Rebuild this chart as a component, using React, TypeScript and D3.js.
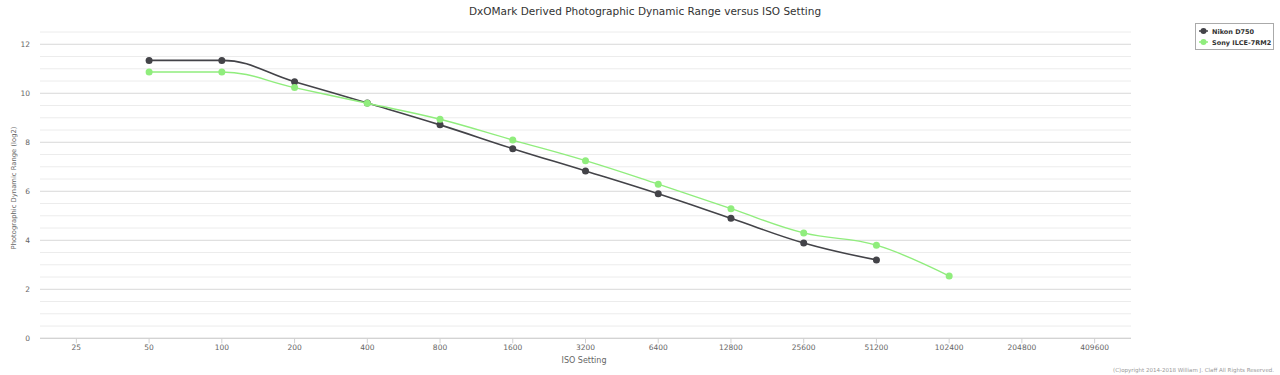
import React from "react";
import * as d3 from "d3";

const title = "DxOMark Derived Photographic Dynamic Range versus ISO Setting";
const isoCategories = ["25", "50", "100", "200", "400", "800", "1600", "3200", "6400", "12800", "25600", "51200", "102400", "204800", "409600"];
const nikonISO = ["50", "100", "200", "400", "800", "1600", "3200", "6400", "12800", "25600", "51200"];
const nikonValues = [11.34, 11.34, 10.47, 9.6, 8.71, 7.74, 6.83, 5.9, 4.9, 3.89, 3.2];
const sonyISO = ["50", "100", "200", "400", "800", "1600", "3200", "6400", "12800", "25600", "51200", "102400"];
const sonyValues = [10.87, 10.87, 10.23, 9.59, 8.94, 8.09, 7.25, 6.29, 5.29, 4.3, 3.8, 2.54];
const yTicks = [0, 2, 4, 6, 8, 10, 12];
const seriesNames = ["Nikon D750", "Sony ILCE-7RM2"];
const seriesColors = ["#434348", "#90ed7d"];

const W = 1280;
const H = 375;
const M = { left: 40, right: 1131, top: 32, bottom: 338.3 };

const x = d3.scaleBand<string>().domain(isoCategories).range([M.left, M.right]).padding(0);
const y = d3.scaleLinear().domain([0, 12.5]).range([M.bottom, M.top]);
const cx = (c: string) => (x(c) as number) + x.bandwidth() / 2;

type P = { px: number; py: number };

function splinePath(pts: P[]): string {
  const p = d3.path();
  const sm = 1.5, den = 2.5;
  const lc: { x: number; y: number }[] = [];
  const rc: { x: number; y: number }[] = [];
  pts.forEach((pt, i) => {
    const prev = pts[i - 1];
    const next = pts[i + 1];
    if (prev && next) {
      const lx = (sm * pt.px + prev.px) / den;
      let ly = (sm * pt.py + prev.py) / den;
      const rx = (sm * pt.px + next.px) / den;
      let ry = (sm * pt.py + next.py) / den;
      if (rx !== lx) {
        const corr = ((ry - ly) * (rx - pt.px)) / (rx - lx) + pt.py - ry;
        ly += corr;
        ry += corr;
      }
      if (ly > prev.py && ly > pt.py) {
        ly = Math.max(prev.py, pt.py);
        ry = 2 * pt.py - ly;
      } else if (ly < prev.py && ly < pt.py) {
        ly = Math.min(prev.py, pt.py);
        ry = 2 * pt.py - ly;
      }
      if (ry > next.py && ry > pt.py) {
        ry = Math.max(next.py, pt.py);
        ly = 2 * pt.py - ry;
      } else if (ry < next.py && ry < pt.py) {
        ry = Math.min(next.py, pt.py);
        ly = 2 * pt.py - ry;
      }
      lc[i] = { x: lx, y: ly };
      rc[i] = { x: rx, y: ry };
    } else {
      lc[i] = { x: pt.px, y: pt.py };
      rc[i] = { x: pt.px, y: pt.py };
    }
  });
  pts.forEach((pt, i) => {
    if (i === 0) p.moveTo(pt.px, pt.py);
    else p.bezierCurveTo(rc[i - 1].x, rc[i - 1].y, lc[i].x, lc[i].y, pt.px, pt.py);
  });
  return p.toString();
}

const series = [
  { name: seriesNames[0], color: seriesColors[0], pts: nikonISO.map((c, i) => ({ px: cx(c), py: y(nikonValues[i]) })) },
  { name: seriesNames[1], color: seriesColors[1], pts: sonyISO.map((c, i) => ({ px: cx(c), py: y(sonyValues[i]) })) },
];

const minorTicks = d3.range(0, 12.51, 0.5).filter((v) => v % 2 !== 0);

const font = "'Lucida Grande', 'DejaVu Sans', Verdana, sans-serif";

export default function App() {
  return (
    <svg width={W} height={H} style={{ display: "block", position: "absolute", left: 0, top: 0 }} fontFamily={font}>
      <rect width={W} height={H} fill="#fff" />
      <text x={645} y={15} textAnchor="middle" fontSize={10.5} fill="#333">{title}</text>
      {minorTicks.map((v) => (
        <line key={"m" + v} x1={M.left} x2={M.right} y1={y(v)} y2={y(v)} stroke="#ececec" strokeWidth={1} />
      ))}
      {yTicks.map((v) => (
        <g key={"y" + v}>
          <line x1={M.left} x2={M.right} y1={y(v)} y2={y(v)} stroke="#d8d8d8" strokeWidth={1} />
          <text x={30} y={y(v) + 3} textAnchor="end" fontSize={7.5} fill="#666">{v}</text>
        </g>
      ))}
      <line x1={M.left} x2={M.right} y1={M.bottom} y2={M.bottom} stroke="#d0d0d0" strokeWidth={1} />
      {isoCategories.map((c) => (
        <g key={"x" + c}>
          <line x1={cx(c)} x2={cx(c)} y1={M.bottom} y2={M.bottom + 5} stroke="#d0d0d0" />
          <text x={cx(c)} y={350} textAnchor="middle" fontSize={7.5} fill="#666">{c}</text>
        </g>
      ))}
      <text x={584} y={363} textAnchor="middle" fontSize={8} fill="#666">ISO Setting</text>
      <text transform={`translate(16,188) rotate(-90)`} textAnchor="middle" fontSize={6.8} fill="#666">
        Photographic Dynamic Range (log2)
      </text>
      {series.map((s) => (
        <g key={s.name}>
          <path d={splinePath(s.pts)} fill="none" stroke={s.color} strokeWidth={s.color === seriesColors[0] ? 1.6 : 1.4} />
          {s.pts.map((pt, i) => (
            <circle key={i} cx={pt.px} cy={pt.py} r={3.5} fill={s.color} />
          ))}
        </g>
      ))}
      <rect x={1195.5} y={23.5} width={78} height={26} fill="#fff" stroke="#aaa" strokeWidth={1} />
      {series.map((s, i) => (
        <g key={"lg" + s.name} transform={`translate(1199,${31 + i * 11})`}>
          <line x1={0} x2={9} y1={0} y2={0} stroke={s.color} strokeWidth={1.5} />
          <circle cx={4.5} cy={0} r={3} fill={s.color} />
          <text x={13} y={2.5} fontSize={6.5} fontWeight="bold" fill="#333">{s.name}</text>
        </g>
      ))}
      <text x={1274} y={372} textAnchor="end" fontSize={5.5} fill="#999">(C)opyright 2014-2018 William J. Claff All Rights Reserved.</text>
    </svg>
  );
}
